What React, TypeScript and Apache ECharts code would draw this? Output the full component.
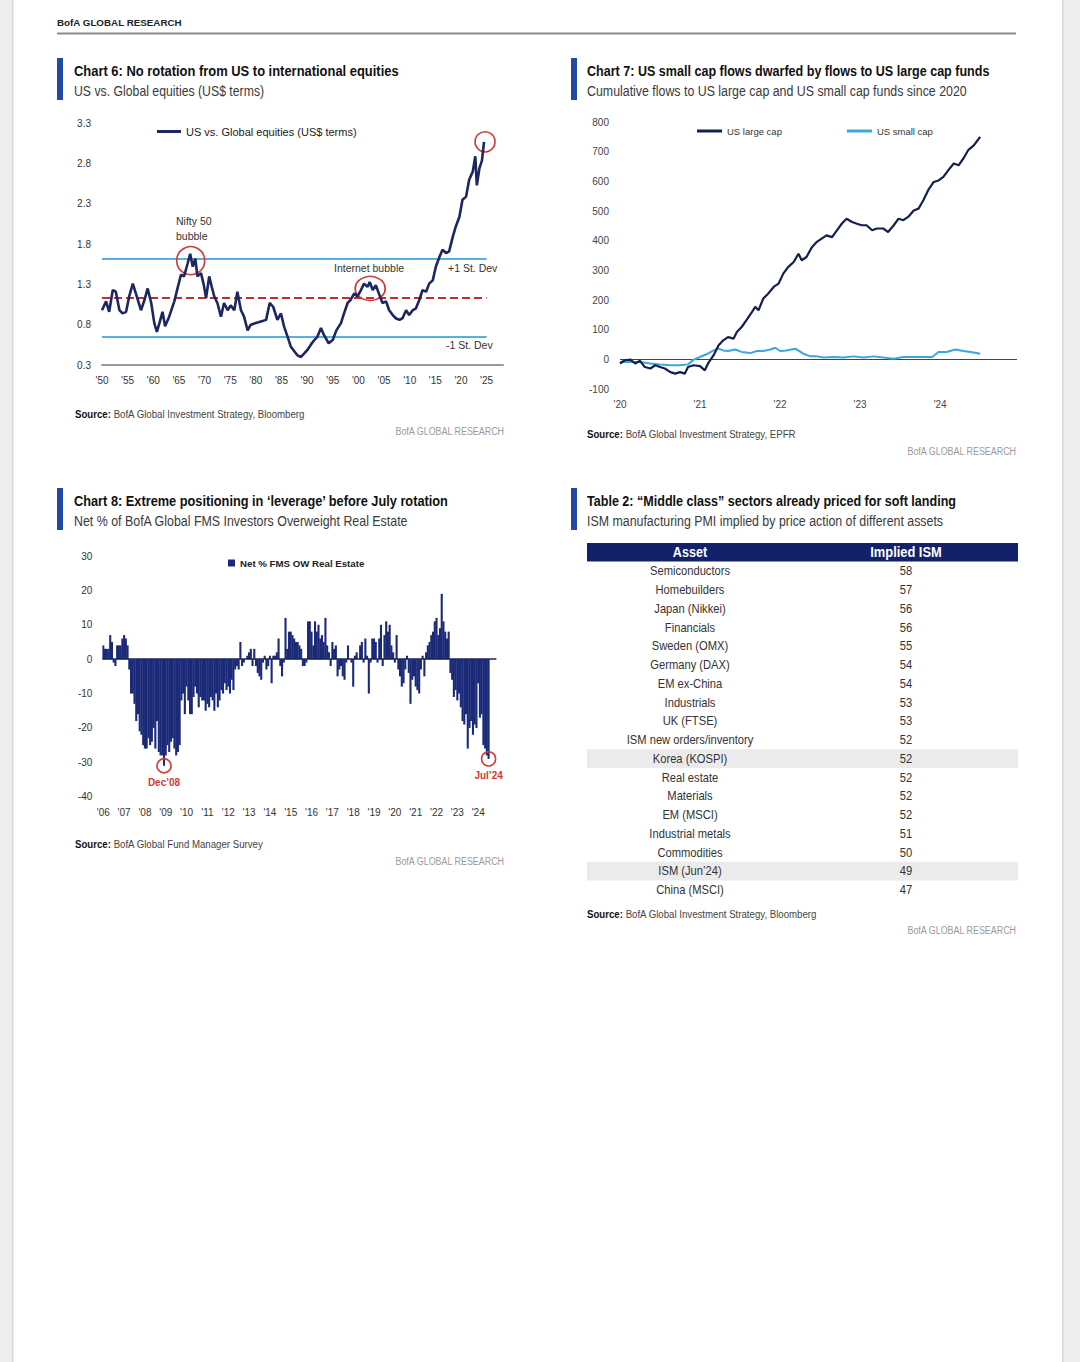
import React, { useEffect, useRef } from "react";
import * as echarts from "echarts";

const SANS = "'Liberation Sans', Arial, sans-serif";

// ---------- Chart 6: US vs Global equities ----------
const C6_YEARS = [1950.0,1950.8,1951.4,1952.1,1952.7,1953.4,1954.0,1954.7,1955.3,1956.0,1956.6,1957.6,1958.3,1958.9,1959.6,1960.2,1960.7,1961.2,1961.8,1962.3,1963.1,1964.1,1964.8,1965.4,1966.0,1966.7,1967.2,1967.7,1968.2,1968.6,1969.3,1969.8,1970.3,1970.9,1971.4,1971.9,1972.5,1973.2,1973.8,1974.5,1975.1,1975.8,1976.4,1977.1,1977.7,1978.4,1979.0,1980.0,1981.0,1982.0,1982.7,1983.4,1984.2,1984.9,1985.5,1986.2,1986.8,1987.5,1988.1,1988.8,1989.4,1990.1,1990.7,1991.4,1992.0,1992.7,1993.3,1994.2,1995.0,1995.7,1996.6,1997.2,1997.9,1998.5,1999.2,1999.8,2000.5,2001.1,2001.8,2002.2,2002.8,2003.4,2004.1,2004.7,2005.4,2006.0,2006.7,2007.3,2008.0,2008.6,2009.3,2009.9,2010.6,2011.2,2011.9,2012.5,2013.2,2013.8,2014.5,2015.1,2015.8,2016.4,2017.1,2017.7,2018.4,2019.0,2019.7,2020.3,2021.0,2021.6,2022.3,2022.8,2023.1,2023.6,2024.1,2024.5];
const C6_VALUES = [0.98,1.09,0.96,1.23,1.21,0.98,0.94,0.96,1.15,1.31,1.19,0.98,1.11,1.25,1.07,0.82,0.71,0.82,0.96,0.78,0.90,1.09,1.27,1.42,1.40,1.56,1.68,1.52,1.62,1.40,1.44,1.31,1.13,1.40,1.27,1.15,1.07,0.90,1.07,0.98,1.04,0.98,1.21,0.98,0.90,0.73,0.80,0.82,0.84,0.86,1.07,1.02,0.86,0.94,0.78,0.65,0.53,0.47,0.42,0.40,0.44,0.49,0.55,0.61,0.65,0.76,0.67,0.57,0.61,0.73,0.82,0.94,1.07,1.11,1.19,1.15,1.23,1.31,1.27,1.33,1.23,1.29,1.17,1.07,1.09,0.98,0.92,0.88,0.86,0.88,0.98,0.92,0.98,1.00,1.11,1.23,1.21,1.31,1.35,1.52,1.64,1.73,1.69,1.71,1.89,2.02,2.14,2.35,2.39,2.60,2.70,2.89,2.53,2.74,2.84,3.07];
const C6_MEAN = 1.135;
const C6_SD = 0.485;
const C6_BAND_END = 2025;
const C6_CIRCLES = [
  { year: 1967.3, value: 1.595, size: [28, 28] },
  { year: 2002.3, value: 1.25, size: [30, 24] },
  { year: 2024.7, value: 3.07, size: [20, 20] },
];

// ---------- Chart 7: cumulative flows ----------
const LC_YEARS = [2020.00,2020.06,2020.13,2020.19,2020.25,2020.31,2020.38,2020.44,2020.50,2020.56,2020.63,2020.69,2020.75,2020.81,2020.85,2020.92,2021.00,2021.06,2021.10,2021.17,2021.23,2021.29,2021.35,2021.42,2021.46,2021.52,2021.58,2021.65,2021.69,2021.73,2021.79,2021.85,2021.92,2021.98,2022.04,2022.10,2022.17,2022.23,2022.27,2022.33,2022.40,2022.46,2022.52,2022.58,2022.65,2022.71,2022.77,2022.83,2022.90,2022.96,2023.02,2023.08,2023.15,2023.21,2023.29,2023.35,2023.42,2023.48,2023.54,2023.60,2023.67,2023.73,2023.79,2023.85,2023.92,2023.98,2024.04,2024.10,2024.17,2024.23,2024.29,2024.35,2024.42,2024.50];
const LC_VALUES = [-13,-2,0,-13,-4,-25,-30,-19,-25,-30,-42,-47,-42,-47,-25,-19,-22,-36,-13,15,48,65,76,71,93,110,133,161,178,166,206,222,245,256,290,312,329,357,335,346,380,397,408,419,413,436,458,475,464,458,453,453,436,442,442,430,453,475,470,481,503,509,537,571,599,604,616,638,661,655,678,706,722,751];
const SC_YEARS = [2020.00,2020.13,2020.25,2020.38,2020.50,2020.63,2020.75,2020.85,2020.92,2021.00,2021.08,2021.17,2021.23,2021.29,2021.35,2021.44,2021.52,2021.63,2021.71,2021.79,2021.88,2021.94,2022.00,2022.08,2022.19,2022.29,2022.38,2022.46,2022.54,2022.67,2022.79,2022.92,2023.04,2023.17,2023.29,2023.42,2023.54,2023.67,2023.79,2023.90,2023.98,2024.08,2024.19,2024.29,2024.40,2024.50];
const SC_VALUES = [-8,-8,-8,-13,-16,-19,-19,-16,0,9,18,31,37,31,29,34,26,22,29,29,34,40,29,31,37,20,11,11,7,9,7,11,7,11,7,3,9,9,9,9,26,26,34,29,25,20];

// ---------- Chart 8: FMS real estate (monthly, Jan 2006 - Jul 2024) ----------
const FMS_START_YEAR = 2006;
const FMS_MONTHS_SHOWN = 227;
const FMS_VALUES = [
  4,3,3,3,7,5,-1,-2,4,4,4,6,7,6,4,
  -3,-10,-10,-13,-18,-16,-21,-22,-25,-26,-26,-23,-25,-24,-20,-26,-18,-27,-28,-28,-31,-28,-25,-27,-24,-23,-26,-28,-27,-25,
  -12,-10,-16,-8,-12,-16,-16,-11,-8,-10,-14,-11,-12,-12,-15,-13,-14,-11,-12,-15,-10,-14,-12,-9,-10,-7,-9,-8,
  -10,-6,-9,-3,-2,-3,5,-2,-1,0,
  1,2,3,-2,3,-2,-4,-5,-6,-1,
  1,-3,-2,1,-7,1,1,2,6,-2,
  -5,-1,12,3,8,8,7,6,5,5,
  4,3,-2,-2,-1,11,11,8,4,11,
  8,10,6,7,5,12,4,2,-2,5,
  3,4,-5,-3,-2,-5,-6,-1,4,0,
  -1,-8,1,2,0,4,5,-1,6,1,
  -10,
  -1,6,6,5,-1,6,10,-2,7,11,
  8,10,4,2,-1,7,-3,-5,-8,-7,
  -3,1,-4,-13,-6,-5,-8,-9,-10,-3,
  1,-5,2,4,5,7,8,11,12,7,
  9,19,11,8,6,8,-4,-6,-11,-9,
  -12,-10,-14,-18,-19,-16,-26,-20,-18,-22,
  -19,-20,-7,-17,-16,-25,-26,-28,-29,
];
const FMS_MARKS = [
  { month: "2008-12", value: -31, label: "Dec\u201908" },
  { month: "2024-07", value: -29, label: "Jul\u201924" },
];

// ---------- Table 2 ----------
const TABLE_ASSETS = ["Semiconductors","Homebuilders","Japan (Nikkei)","Financials","Sweden (OMX)","Germany (DAX)","EM ex-China","Industrials","UK (FTSE)","ISM new orders/inventory","Korea (KOSPI)","Real estate","Materials","EM (MSCI)","Industrial metals","Commodities","ISM (Jun\u201924)","China (MSCI)"];
const TABLE_ISM = [58,57,56,56,55,54,54,53,53,52,52,52,52,52,51,50,49,47];
const TABLE_HIGHLIGHT = ["Korea (KOSPI)", "ISM (Jun\u201924)"];

const NAVY = "#1c2660";
const BAR_NAVY = "#1b2a78";
const LIGHT_BLUE = "#55b1e0";
const RED = "#cf3a34";
const ACCENT = "#2349a6";

function T(text: string, x: number, y: number, size: number, o: any = {}) {
  const align = o.align || "left";
  return {
    type: "text",
    x,
    y,
    scaleX: o.sx || 1,
    silent: true,
    z: 10,
    style: {
      text,
      fontSize: size,
      fontFamily: SANS,
      fontWeight: o.weight || "normal",
      fill: o.color || "#222",
      align,
      verticalAlign: "middle",
      textAlign: align,
      textVerticalAlign: "middle",
      rich: o.rich,
    },
  };
}

function sourceText(rest: string, x: number, y: number) {
  return T("{b|Source:} " + rest, x, y, 11.5, {
    color: "#444",
    sx: 0.84,
    rich: {
      b: { fontWeight: "bold", fontSize: 11.5, fontFamily: SANS, fill: "#111" },
    },
  });
}

function tableTextSeries(name: string, col: number, texts: string[]) {
  return {
    name, type: "custom", xAxisIndex: 3, yAxisIndex: 4, silent: true, z: 3,
    data: texts.map((t, i) => [col, i]),
    encode: { x: 0, y: 1 },
    renderItem: (params: any, api: any) => {
      const p = api.coord([api.value(0), api.value(1)]);
      return {
        type: "text", x: p[0], y: p[1], scaleX: 0.86,
        style: {
          text: texts[params.dataIndex], fontSize: 13, fontFamily: SANS, fill: "#333",
          align: "center", verticalAlign: "middle", textAlign: "center", textVerticalAlign: "middle",
        },
      };
    },
  };
}

function buildOption() {
  const fmsMonths: string[] = [];
  for (let i = 0; i < FMS_MONTHS_SHOWN; i++) {
    const y = FMS_START_YEAR + Math.floor(i / 12);
    const m = (i % 12) + 1;
    fmsMonths.push(y + "-" + (m < 10 ? "0" + m : "" + m));
  }
  const c6Data = C6_YEARS.map((y, i) => [y, C6_VALUES[i]]);
  const lcData = LC_YEARS.map((y, i) => [y, LC_VALUES[i]]);
  const scData = SC_YEARS.map((y, i) => [y, SC_VALUES[i]]);

  const bandLine = (v: number, color: string, type: string) => [
    { coord: [C6_YEARS[0], v], lineStyle: { color, width: 2, type } },
    { coord: [C6_BAND_END, v] },
  ];

  const SS = 0.876;
  const WS = 0.81;

  const graphic: any[] = [
    { type: "rect", shape: { x: 0, y: 0, width: 12, height: 1362 }, style: { fill: "#ededf0" }, silent: true },
    { type: "rect", shape: { x: 12, y: 0, width: 1.5, height: 1362 }, style: { fill: "#d6d6db" }, silent: true },
    { type: "rect", shape: { x: 1063, y: 0, width: 17, height: 1362 }, style: { fill: "#ededf0" }, silent: true },
    { type: "rect", shape: { x: 1062, y: 0, width: 1.5, height: 1362 }, style: { fill: "#d6d6db" }, silent: true },
    T("BofA GLOBAL RESEARCH", 57, 22.5, 9.8, { weight: "bold", color: "#222" }),
    { type: "rect", shape: { x: 57, y: 32.5, width: 959, height: 2 }, style: { fill: "#8c8c8c" }, silent: true },
    { type: "rect", shape: { x: 57, y: 58, width: 6, height: 42 }, style: { fill: ACCENT }, silent: true },
    { type: "rect", shape: { x: 571, y: 58, width: 6, height: 42 }, style: { fill: ACCENT }, silent: true },
    { type: "rect", shape: { x: 57, y: 488, width: 6, height: 42 }, style: { fill: ACCENT }, silent: true },
    { type: "rect", shape: { x: 571, y: 488, width: 6, height: 42 }, style: { fill: ACCENT }, silent: true },
    T("Chart 6: No rotation from US to international equities", 74, 71, 15, { weight: "bold", color: "#111", sx: 0.862 }),
    T("US vs. Global equities (US$ terms)", 74, 91, 14, { color: "#3a3a3a", sx: SS }),
    T("Chart 7: US small cap flows dwarfed by flows to US large cap funds", 587, 71, 15, { weight: "bold", color: "#111", sx: 0.837 }),
    T("Cumulative flows to US large cap and US small cap funds since 2020", 587, 91, 14, { color: "#3a3a3a", sx: 0.885 }),
    T("Chart 8: Extreme positioning in \u2018leverage\u2019 before July rotation", 74, 501, 15, { weight: "bold", color: "#111", sx: 0.852 }),
    T("Net % of BofA Global FMS Investors Overweight Real Estate", 74, 521, 14, { color: "#3a3a3a", sx: 0.886 }),
    T("Table 2: \u201cMiddle class\u201d sectors already priced for soft landing", 587, 501, 15, { weight: "bold", color: "#111", sx: 0.838 }),
    T("ISM manufacturing PMI implied by price action of different assets", 587, 521, 14, { color: "#3a3a3a", sx: 0.885 }),
    T("Nifty 50", 176, 220.5, 10.5, { color: "#333" }),
    T("bubble", 176, 236, 10.5, { color: "#333" }),
    T("Internet bubble", 334, 268, 10.5, { color: "#333" }),
    T("+1 St. Dev", 448, 268, 10.5, { color: "#333" }),
    T("-1 St. Dev", 446, 345, 10.5, { color: "#333" }),
    sourceText("BofA Global Investment Strategy, Bloomberg", 75, 414),
    T("BofA GLOBAL RESEARCH", 504, 431, 11, { align: "right", color: "#9a9a9a", sx: WS }),
    sourceText("BofA Global Investment Strategy, EPFR", 587, 434),
    T("BofA GLOBAL RESEARCH", 1016, 451, 11, { align: "right", color: "#9a9a9a", sx: WS }),
    sourceText("BofA Global Fund Manager Survey", 75, 844),
    T("BofA GLOBAL RESEARCH", 504, 861, 11, { align: "right", color: "#9a9a9a", sx: WS }),
    sourceText("BofA Global Investment Strategy, Bloomberg", 587, 914),
    T("BofA GLOBAL RESEARCH", 1016, 930, 11, { align: "right", color: "#9a9a9a", sx: WS }),
    { type: "rect", shape: { x: 587, y: 543, width: 431, height: 18.5 }, style: { fill: "#13216a" }, silent: true },
    T("Asset", 690, 552.5, 14, { align: "center", weight: "bold", color: "#fff", sx: 0.9 }),
    T("Implied ISM", 906, 552.5, 14, { align: "center", weight: "bold", color: "#fff", sx: 0.92 }),
  ];

  return {
    animation: false,
    backgroundColor: "#ffffff",
    textStyle: { fontFamily: SANS },
    grid: [
      { left: 102, top: 123.3, width: 401, height: 241.7 },
      { left: 620, top: 122.3, width: 397, height: 267 },
      { left: 102.4, top: 556, width: 394, height: 240.7 },
      { left: 587, top: 561.6, width: 431, height: 337.7 },
    ],
    legend: [
      {
        data: ["US vs. Global equities (US$ terms)"], padding: 0,
        left: 157, top: 126, icon: "rect", itemWidth: 24, itemHeight: 3,
        textStyle: { fontSize: 11, color: "#222", fontFamily: SANS }, selectedMode: false,
      },
      {
        data: ["US large cap", "US small cap"], padding: 0,
        left: 697, top: 126, icon: "rect", itemWidth: 25, itemHeight: 3, itemGap: 65,
        textStyle: { fontSize: 9.5, color: "#333", fontFamily: SANS }, selectedMode: false,
      },
      {
        data: ["Net % FMS OW Real Estate"], padding: 0,
        left: 228, top: 558, icon: "rect", itemWidth: 7, itemHeight: 7,
        textStyle: { fontSize: 9.7, color: "#222", fontWeight: "bold", fontFamily: SANS }, selectedMode: false,
      },
    ],
    xAxis: [
      {
        type: "value", gridIndex: 0, min: 1950, max: 2028.2, interval: 5,
        axisLine: { show: true, lineStyle: { color: "#9a9a9a", width: 2 } },
        axisTick: { show: false }, splitLine: { show: false },
        axisLabel: {
          formatter: (v: number) => (v % 5 === 0 && v <= 2025 ? "'" + String(v).slice(2) : ""),
          fontSize: 10, color: "#333", margin: 10, fontFamily: SANS,
        },
      },
      {
        type: "value", gridIndex: 1, min: 2020, max: 2024.96, interval: 1,
        axisLine: { show: false }, axisTick: { show: false }, splitLine: { show: false },
        axisLabel: {
          formatter: (v: number) => (Number.isInteger(v) ? "'" + String(v).slice(2) : ""),
          fontSize: 10, color: "#444", margin: 10, fontFamily: SANS,
        },
      },
      {
        type: "category", gridIndex: 2, data: fmsMonths,
        axisLine: { show: false }, axisTick: { show: false }, splitLine: { show: false },
        axisLabel: {
          interval: (i: number) => i % 12 === 0,
          formatter: (v: string) => "'" + v.slice(2, 4),
          fontSize: 10, color: "#333", margin: 11, fontFamily: SANS,
        },
      },
      { type: "value", gridIndex: 3, min: 0, max: 1, show: false },
    ],
    yAxis: [
      {
        type: "value", gridIndex: 0, min: 0.3, max: 3.3,
        axisLabel: { show: false }, axisLine: { show: false }, axisTick: { show: false }, splitLine: { show: false },
      },
      {
        type: "value", gridIndex: 0, min: 0, max: 3, interval: 0.5, position: "left",
        axisLine: { show: false }, axisTick: { show: false }, splitLine: { show: false },
        axisLabel: { formatter: (v: number) => (v + 0.3).toFixed(1), fontSize: 10, color: "#333", margin: 11, fontFamily: SANS },
      },
      {
        type: "value", gridIndex: 1, min: -100, max: 800, interval: 100,
        axisLine: { show: false }, axisTick: { show: false }, splitLine: { show: false },
        axisLabel: { fontSize: 10, color: "#444", margin: 11, fontFamily: SANS },
      },
      {
        type: "value", gridIndex: 2, min: -40, max: 30, interval: 10,
        axisLine: { show: false }, axisTick: { show: false }, splitLine: { show: false },
        axisLabel: { fontSize: 10, color: "#333", margin: 10, fontFamily: SANS },
      },
      { type: "category", gridIndex: 3, data: TABLE_ASSETS, inverse: true, show: false },
    ],
    series: [
      {
        name: "US vs. Global equities (US$ terms)",
        type: "line", xAxisIndex: 0, yAxisIndex: 0, data: c6Data,
        symbol: "none", color: NAVY, lineStyle: { color: NAVY, width: 2.6 }, z: 5,
        markLine: {
          silent: true, symbol: "none", label: { show: false }, z: 3,
          data: [
            bandLine(C6_MEAN + C6_SD, LIGHT_BLUE, "solid"),
            bandLine(C6_MEAN, "#c62b2f", "dashed"),
            bandLine(C6_MEAN - C6_SD, LIGHT_BLUE, "solid"),
          ],
        },
        markPoint: {
          silent: true, symbol: "circle", label: { show: false },
          itemStyle: { color: "rgba(0,0,0,0)", borderColor: RED, borderWidth: 1.6 },
          data: C6_CIRCLES.map((c) => ({ coord: [c.year, c.value], symbolSize: c.size })),
        },
      },
      {
        name: "US large cap", type: "line", xAxisIndex: 1, yAxisIndex: 2, data: lcData,
        symbol: "none", color: "#13204f", lineStyle: { color: "#13204f", width: 2.2 }, z: 5,
        markLine: {
          silent: true, symbol: "none", label: { show: false }, z: 2,
          lineStyle: { color: "#444", width: 1, type: "solid" },
          data: [{ yAxis: 0 }],
        },
      },
      {
        name: "US small cap", type: "line", xAxisIndex: 1, yAxisIndex: 2, data: scData,
        symbol: "none", color: "#3ba7dc", lineStyle: { color: "#3ba7dc", width: 2 }, z: 4,
      },
      {
        name: "Net % FMS OW Real Estate", type: "bar", xAxisIndex: 2, yAxisIndex: 3, data: FMS_VALUES,
        color: BAR_NAVY, itemStyle: { color: BAR_NAVY }, barWidth: 2.1,
        markLine: {
          silent: true, symbol: "none", label: { show: false },
          lineStyle: { color: "#1b2550", width: 1.5, type: "solid" },
          data: [{ yAxis: 0 }],
        },
        markPoint: {
          silent: true, symbol: "circle", symbolSize: 14,
          itemStyle: { color: "rgba(0,0,0,0)", borderColor: RED, borderWidth: 1.6 },
          label: { show: true, position: "bottom", distance: 4, color: RED, fontWeight: "bold", fontSize: 10, fontFamily: SANS },
          data: FMS_MARKS.map((m) => ({ coord: [m.month, m.value], label: { formatter: m.label } })),
        },
      },
      {
        name: "rowHighlight", type: "bar", xAxisIndex: 3, yAxisIndex: 4, silent: true,
        data: TABLE_ASSETS.map((a) => (TABLE_HIGHLIGHT.indexOf(a) >= 0 ? 1 : null)),
        barCategoryGap: 0, itemStyle: { color: "#ebebeb" }, z: 1,
      },
      tableTextSeries("assetNames", 0.239, TABLE_ASSETS),
      tableTextSeries("ismValues", 0.74, TABLE_ISM.map(String)),
    ],
    graphic,
  };
}

export default function App() {
  const ref = useRef<HTMLDivElement>(null);
  useEffect(() => {
    if (!ref.current) return;
    const chart = echarts.init(ref.current, undefined, { renderer: "svg" });
    chart.setOption(buildOption() as any);
    return () => chart.dispose();
  }, []);
  return (
    <div
      ref={ref}
      style={{ position: "absolute", left: 0, top: 0, width: 1080, height: 1362, background: "#fff" }}
    />
  );
}
